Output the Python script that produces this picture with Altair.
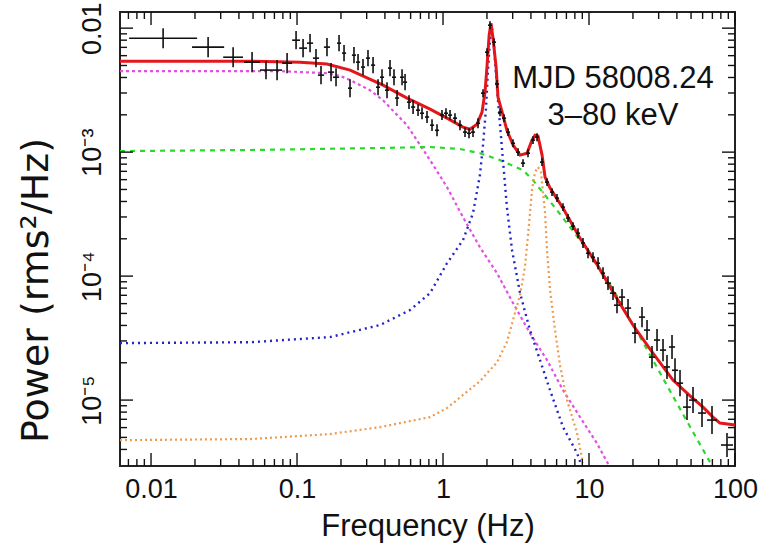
import altair as alt
import pandas as pd

# ------------------------------------------------------------------ data
# observed power spectrum: bin centre, power, error (dex) and bin half-width (dex)
obs_freq = [
    0.0121, 0.0246, 0.0365, 0.0492, 0.0613, 0.0730, 0.0855, 0.0985, 0.110, 0.1228,
    0.1349, 0.1460, 0.1604, 0.1710, 0.1850, 0.1940, 0.2099, 0.2307, 0.2456, 0.2618,
    0.2831, 0.3063, 0.3317, 0.3589, 0.3821, 0.4134, 0.4335, 0.4617, 0.4842, 0.5240,
    0.5495, 0.5848, 0.6237, 0.6745, 0.7180, 0.7770, 0.8407, 0.9097, 0.984, 1.048,
    1.117, 1.208, 1.307, 1.415, 1.507, 1.605, 1.737, 1.879, 2.002, 2.099,
    2.235, 2.344, 2.457, 2.617, 2.788, 3.016, 3.264, 3.531, 3.821, 4.135,
    4.404, 4.765, 5.157, 5.579, 6.037, 6.636, 7.181, 7.770, 8.408, 9.097,
    9.843, 10.65, 11.53, 12.47, 13.49, 14.60, 15.55, 16.83, 18.50, 20.66,
    23.07, 24.97, 27.01, 29.23, 32.13, 34.21, 37.03, 38.82, 42.01, 46.91,
    51.57, 59.43, 69.58, 88.14]
obs_power = [
    8.30e-3, 7.03e-3, 5.83e-3, 5.32e-3, 4.59e-3, 4.59e-3, 5.22e-3, 8.00e-3, 6.90e-3, 7.57e-3,
    5.73e-3, 4.18e-3, 7.03e-3, 4.42e-3, 4.02e-3, 7.57e-3, 6.29e-3, 3.28e-3, 6.06e-3, 5.32e-3,
    4.85e-3, 5.73e-3, 5.03e-3, 3.34e-3, 4.02e-3, 3.16e-3, 4.76e-3, 4.02e-3, 2.73e-3, 4.02e-3,
    3.67e-3, 2.53e-3, 2.31e-3, 2.18e-3, 2.06e-3, 1.92e-3, 1.65e-3, 1.50e-3, 1.99e-3, 2.06e-3,
    1.99e-3, 1.88e-3, 1.65e-3, 1.45e-3, 1.42e-3, 1.45e-3, 1.71e-3, 2.99e-3, 6.40e-3, 1.057e-2,
    7.71e-3, 3.54e-3, 2.10e-3, 1.88e-3, 1.45e-3, 1.18e-3, 1.00e-3, 8.15e-4, 9.81e-4, 1.25e-3,
    1.32e-3, 8.31e-4, 5.73e-4, 4.76e-4, 4.26e-4, 3.60e-4, 2.94e-4, 2.53e-4, 2.22e-4, 1.85e-4,
    1.53e-4, 1.42e-4, 1.27e-4, 1.057e-4, 8.78e-5, 7.29e-5, 5.83e-5, 6.77e-5, 5.52e-5, 3.47e-5,
    4.67e-5, 3.67e-5, 2.22e-5, 3.05e-5, 2.53e-5, 1.85e-5, 2.68e-5, 1.74e-5, 1.37e-5, 8.78e-6,
    1.00e-5, 7.86e-6, 6.90e-6, 4.34e-6]
obs_perr_dex = [
    0.081, 0.081, 0.081, 0.081, 0.073, 0.081, 0.081, 0.073, 0.073, 0.073,
    0.073, 0.073, 0.073, 0.073, 0.073, 0.065, 0.065, 0.073, 0.065, 0.065,
    0.065, 0.065, 0.065, 0.065, 0.065, 0.065, 0.065, 0.065, 0.065, 0.065,
    0.065, 0.056, 0.056, 0.048, 0.048, 0.048, 0.048, 0.048, 0.040, 0.040,
    0.040, 0.040, 0.040, 0.040, 0.040, 0.040, 0.040, 0.032, 0.032, 0.032,
    0.032, 0.032, 0.032, 0.032, 0.032, 0.032, 0.032, 0.032, 0.032, 0.032,
    0.032, 0.032, 0.032, 0.032, 0.032, 0.032, 0.032, 0.032, 0.040, 0.040,
    0.040, 0.040, 0.048, 0.048, 0.056, 0.056, 0.065, 0.065, 0.073, 0.081,
    0.081, 0.081, 0.089, 0.089, 0.089, 0.097, 0.097, 0.097, 0.105, 0.105,
    0.105, 0.113, 0.113, 0.097]
obs_fwid_dex = [
    0.233, 0.110, 0.068, 0.055, 0.041, 0.034, 0.034, 0.027, 0.027, 0.021,
    0.021, 0.021, 0.021, 0.021, 0.021, 0.014, 0.014, 0.014, 0.014, 0.014,
    0.014, 0.014, 0.014, 0.014, 0.014, 0.014, 0.014, 0.014, 0.014, 0.014,
    0.014, 0.014, 0.014, 0.014, 0.014, 0.014, 0.014, 0.014, 0.014, 0.014,
    0.014, 0.014, 0.014, 0.014, 0.014, 0.014, 0.014, 0.014, 0.014, 0.014,
    0.014, 0.014, 0.014, 0.014, 0.014, 0.014, 0.014, 0.014, 0.014, 0.014,
    0.014, 0.014, 0.014, 0.014, 0.014, 0.014, 0.014, 0.014, 0.014, 0.014,
    0.014, 0.014, 0.014, 0.014, 0.021, 0.021, 0.021, 0.021, 0.021, 0.021,
    0.021, 0.021, 0.021, 0.021, 0.021, 0.021, 0.021, 0.021, 0.021, 0.027,
    0.027, 0.027, 0.034, 0.041]

# total model (red)
red_f = [0.00613, 0.0477, 0.105, 0.160, 0.231, 0.388, 0.567, 0.815, 1.065, 1.37,
         1.53, 1.71, 1.85, 1.94, 2.00, 2.07, 2.13, 2.20, 2.31, 2.38,
         2.54, 2.74, 3.02, 3.37, 3.76, 4.07, 4.27, 4.47, 4.77, 5.00,
         5.41, 6.64, 8.68, 11.3, 14.6, 20.0, 27.4, 37.6, 49.2, 60.4,
         70.6, 78.9, 100]
red_p = [5.42e-3, 5.42e-3, 5.32e-3, 5.13e-3, 4.59e-3, 3.47e-3, 2.73e-3, 2.22e-3, 1.88e-3, 1.59e-3,
         1.53e-3, 1.68e-3, 2.10e-3, 3.05e-3, 4.85e-3, 8.78e-3, 1.097e-2, 8.30e-3, 4.85e-3, 2.78e-3,
         2.10e-3, 1.50e-3, 1.14e-3, 9.46e-4, 9.81e-4, 1.25e-3, 1.37e-3, 1.35e-3, 9.46e-4, 6.28e-4,
         5.13e-4, 3.53e-4, 2.02e-4, 1.25e-4, 7.43e-5, 4.03e-5, 2.39e-5, 1.45e-5, 1.08e-5, 8.78e-6,
         7.29e-6, 6.53e-6, 6.28e-6]

# low-frequency noise component (magenta)
mag_f = [0.00613, 0.0217, 0.0765, 0.160, 0.200, 0.231, 0.316, 0.388, 0.567, 0.815,
         1.065, 1.37, 1.79, 2.34, 3.02, 3.94, 5.16, 6.64, 8.68, 11.3, 13.9]
mag_p = [4.50e-3, 4.50e-3, 4.50e-3, 4.33e-3, 4.10e-3, 3.81e-3, 3.16e-3, 2.62e-3, 1.65e-3, 8.62e-4,
         5.22e-4, 2.99e-4, 1.71e-4, 1.06e-4, 6.05e-5, 3.47e-5, 2.10e-5, 1.20e-5, 7.30e-6, 4.50e-6, 2.88e-6]

# broad noise component (green)
grn_f = [0.00613, 0.0477, 0.370, 0.815, 1.307, 1.79, 2.457, 3.531, 4.135, 6.037,
         8.68, 14.6, 18.50, 22.4, 32.13, 44.0, 67.4]
grn_p = [1.02e-3, 1.04e-3, 1.08e-3, 1.10e-3, 1.06e-3, 9.80e-4, 8.62e-4, 7.16e-4, 5.94e-4, 3.40e-4,
         1.95e-4, 7.86e-5, 4.76e-5, 3.22e-5, 1.50e-5, 7.70e-6, 3.16e-6]

# QPO fundamental (blue)
blu_f = [0.00613, 0.0477, 0.168, 0.370, 0.594, 0.815, 1.065, 1.37, 1.605, 1.79,
         1.879, 1.970, 2.033, 2.099, 2.13, 2.166, 2.235, 2.307, 2.38, 2.54,
         2.74, 2.97, 3.37, 3.94, 4.62, 5.41, 6.64, 8.28, 8.96]
blu_p = [2.88e-5, 2.93e-5, 3.22e-5, 4.03e-5, 5.32e-5, 7.29e-5, 1.27e-4, 1.95e-4, 3.22e-4, 6.53e-4,
         1.14e-3, 2.26e-3, 4.59e-3, 8.00e-3, 1.00e-2, 1.00e-2, 7.29e-3, 4.18e-3, 2.62e-3, 1.04e-3,
         3.60e-4, 1.62e-4, 7.29e-5, 3.67e-5, 2.10e-5, 1.20e-5, 6.05e-6, 3.74e-6, 2.88e-6]

# QPO harmonic (orange)
org_f = [0.00613, 0.0477, 0.168, 0.370, 0.815, 1.065, 1.37, 1.79, 2.344, 2.74,
         3.016, 3.37, 3.64, 3.821, 4.07, 4.27, 4.47, 4.69, 5.00, 5.157,
         5.41, 5.85, 6.33, 7.07, 8.28, 9.10]
org_p = [4.75e-6, 4.85e-6, 5.32e-6, 6.05e-6, 7.29e-6, 8.62e-6, 1.10e-5, 1.42e-5, 2.02e-5, 2.94e-5,
         4.42e-5, 7.03e-5, 1.18e-4, 2.14e-4, 4.94e-4, 6.90e-4, 7.57e-4, 6.90e-4, 3.22e-4, 1.62e-4,
         7.71e-5, 3.67e-5, 1.91e-5, 1.00e-5, 5.42e-6, 3.10e-6]

# axis ticks and labels
x_major = [0.01, 0.1, 1, 10, 100]
x_tick_labels = ["0.01", "0.1", "1", "10", "100"]
x_minor = [0.007, 0.008, 0.009,
           0.02, 0.03, 0.04, 0.05, 0.06, 0.07, 0.08, 0.09,
           0.2, 0.3, 0.4, 0.5, 0.6, 0.7, 0.8, 0.9,
           2, 3, 4, 5, 6, 7, 8, 9,
           20, 30, 40, 50, 60, 70, 80, 90]
y_major = [1e-5, 1e-4, 1e-3, 1e-2]
y_tick_labels = ["10\u207b\u2075", "10\u207b\u2074", "10\u207b\u00b3", "0.01"]
y_minor = [4e-6, 5e-6, 6e-6, 7e-6, 8e-6, 9e-6,
           2e-5, 3e-5, 4e-5, 5e-5, 6e-5, 7e-5, 8e-5, 9e-5,
           2e-4, 3e-4, 4e-4, 5e-4, 6e-4, 7e-4, 8e-4, 9e-4,
           2e-3, 3e-3, 4e-3, 5e-3, 6e-3, 7e-3, 8e-3, 9e-3]

annotation_lines = ["MJD 58008.24", "3\u201380 keV"]

# ------------------------------------------------------------------ chart
FONT = "Liberation Sans, Arial, Helvetica, sans-serif"
YFONT = "DejaVu Sans, Liberation Sans, sans-serif"
W, H = 615, 454
MAJ, MIN = 13, 7
INK = "#111111"

xs = alt.Scale(type="log", domain=[0.00613, 100], nice=False)
ys = alt.Scale(type="log", domain=[2.94e-6, 0.0135], nice=False)


def label_expr(values, labels):
    expr = f"'{labels[-1]}'"
    for v, lab in reversed(list(zip(values[:-1], labels[:-1]))):
        expr = f"datum.value < {v * 3:g} ? '{lab}' : ({expr})"
    return expr


x_axis = alt.Axis(
    values=x_major, labelExpr=label_expr(x_major, x_tick_labels),
    ticks=False, tickSize=0, domain=False, grid=False,
    labelFont=FONT, labelFontSize=27, labelColor=INK, labelBaseline="alphabetic",
    labelPadding=31, labelFlush=False, labelOverlap=False,
    title="Frequency (Hz)", titleFont=FONT, titleFontSize=31, titleFontWeight="normal",
    titleColor=INK, titleX=W / 2, titleY=69, titleAlign="center", titleBaseline="alphabetic")

y_axis = alt.Axis(
    values=y_major, labelExpr=label_expr(y_major, y_tick_labels),
    ticks=False, tickSize=0, domain=False, grid=False,
    labelFont=FONT, labelFontSize=27, labelColor=INK, labelAngle=270,
    labelAlign="center", labelBaseline="alphabetic", labelPadding=20,
    labelFlush=False, labelOverlap=False,
    title="Power (rms\u00b2/Hz)", titleFont=YFONT, titleFontSize=38, titleFontWeight="normal",
    titleColor=INK, titleAngle=270, titleX=-73, titleY=278, titleAlign="center",
    titleBaseline="alphabetic")


def curve(f, p, color, dash, width):
    df = pd.DataFrame({"f": f, "p": p})
    kw = dict(color=color, strokeWidth=width, clip=True)
    if dash:
        kw["strokeDash"] = dash
    return alt.Chart(df).mark_line(**kw).encode(
        x=alt.X("f:Q", scale=xs, axis=x_axis),
        y=alt.Y("p:Q", scale=ys, axis=y_axis))


def xticks(vals, length, top):
    y0, y1 = (0, length) if top else (H, H - length)
    return alt.Chart(pd.DataFrame({"v": vals})).mark_rule(color=INK, strokeWidth=1.4).encode(
        x=alt.X("v:Q", scale=xs, axis=x_axis), y=alt.value(y0), y2=alt.value(y1))


def yticks(vals, length, right):
    x0, x1 = (W, W - length) if right else (0, length)
    return alt.Chart(pd.DataFrame({"v": vals})).mark_rule(color=INK, strokeWidth=1.4).encode(
        y=alt.Y("v:Q", scale=ys, axis=y_axis), x=alt.value(x0), x2=alt.value(x1))


obs = pd.DataFrame({"f": obs_freq, "p": obs_power, "pe": obs_perr_dex, "fw": obs_fwid_dex})
obs_base = alt.Chart(obs).transform_calculate(
    p_lo="datum.p * pow(10, -datum.pe)", p_hi="datum.p * pow(10, datum.pe)",
    f_lo="datum.f * pow(10, -datum.fw)", f_hi="datum.f * pow(10, datum.fw)")
ybars = obs_base.mark_rule(color=INK, strokeWidth=1.6, clip=True).encode(
    x=alt.X("f:Q", scale=xs, axis=x_axis),
    y=alt.Y("p_lo:Q", scale=ys, axis=y_axis), y2="p_hi:Q")
xbars = obs_base.mark_rule(color=INK, strokeWidth=1.6, clip=True).encode(
    x=alt.X("f_lo:Q", scale=xs, axis=x_axis), x2="f_hi:Q",
    y=alt.Y("p:Q", scale=ys, axis=y_axis))

anno_df = pd.DataFrame({"text": annotation_lines, "row": list(range(len(annotation_lines)))})
anno_layers = [
    alt.Chart(anno_df).transform_filter(alt.datum.row == i).mark_text(
        font=FONT, fontSize=31, align="center", baseline="alphabetic", color=INK
    ).encode(text="text:N", x=alt.value(493), y=alt.value(76 + 37 * i))
    for i in range(len(annotation_lines))
]

layers = [
    curve(mag_f, mag_p, "#e24fe2", [3, 3], 2.2),
    curve(grn_f, grn_p, "#2ad92a", [5, 5], 2.2),
    curve(blu_f, blu_p, "#2323c8", [2, 4], 2.4),
    curve(org_f, org_p, "#f09a4c", [2, 3], 2.2),
    curve(red_f, red_p, "#e3171b", None, 3.0),
    xbars, ybars,
    xticks(x_major, MAJ, False), xticks(x_minor, MIN, False),
    xticks(x_major, MAJ, True), xticks(x_minor, MIN, True),
    yticks(y_major, MAJ, False), yticks(y_minor, MIN, False),
    yticks(y_major, MAJ, True), yticks(y_minor, MIN, True),
] + anno_layers

chart = alt.layer(*layers).properties(
    width=W, height=H,
    autosize=alt.AutoSizeParams(type="none"),
    padding={"left": 120, "top": 12, "right": 39, "bottom": 79},
    background="white",
).configure_view(stroke="#222222", strokeWidth=2)

chart.save("out.html", embed_options={"renderer": "svg", "actions": False})
